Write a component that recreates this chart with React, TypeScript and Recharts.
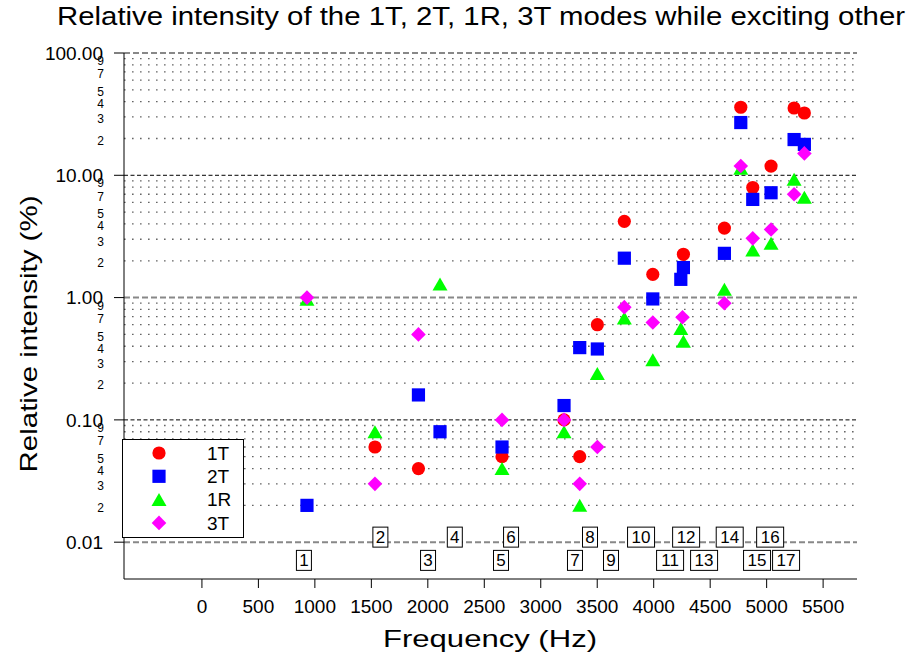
import { ScatterChart, Scatter, XAxis, YAxis, ReferenceLine, Legend } from "recharts";

const title = "Relative intensity of the 1T, 2T, 1R, 3T modes while exciting other";

// axis ticks
const xTicks = [0, 500, 1000, 1500, 2000, 2500, 3000, 3500, 4000, 4500, 5000, 5500];
const majorY = [0.01, 0.1, 1, 10, 100];
const minorSteps = [2, 3, 4, 5, 6, 7, 8, 9];
const labelledSteps = [2, 3, 4, 5, 7, 9];

// series: frequency (Hz) and relative intensity (%)
const freq1T = [1532, 1917, 2657, 3206, 3345, 3501, 3740, 3992, 4263, 4626, 4771, 4877, 5039, 5243, 5334];
const val1T = [0.06, 0.04, 0.05, 0.1, 0.05, 0.6, 4.2, 1.55, 2.26, 3.7, 36, 7.95, 11.9, 35.5, 32.3];

const freq2T = [930, 1917, 2108, 2657, 3206, 3345, 3501, 3740, 3992, 4240, 4263, 4626, 4771, 4877, 5039, 5243, 5334];
const val2T = [0.02, 0.16, 0.08, 0.06, 0.131, 0.39, 0.38, 2.1, 0.975, 1.41, 1.76, 2.3, 27, 6.35, 7.2, 19.6, 17.9];

const freq1R = [930, 1532, 2108, 2657, 3206, 3345, 3501, 3740, 3992, 4240, 4263, 4626, 4771, 4877, 5039, 5243, 5334];
const val1R = [0.97, 0.08, 1.29, 0.04, 0.08, 0.02, 0.24, 0.68, 0.31, 0.56, 0.44, 1.17, 11.4, 2.45, 2.78, 9.3, 6.6];

const freq3T = [930, 1532, 1917, 2657, 3206, 3345, 3501, 3740, 3992, 4255, 4626, 4771, 4877, 5039, 5243, 5334];
const val3T = [1.0, 0.03, 0.5, 0.1, 0.1, 0.03, 0.06, 0.835, 0.625, 0.69, 0.9, 11.9, 3.05, 3.6, 7.0, 15.1];

// numbered boxes for the excited modes
const modeNumbers = [1, 2, 3, 4, 5, 6, 7, 8, 9, 10, 11, 12, 13, 14, 15, 16, 17];
const modeFreqs = [903, 1580, 2002, 2239, 2648, 2737, 3303, 3436, 3622, 3888, 4145, 4287, 4446, 4673, 4915, 5031, 5172];
const boxRowUpper = 0.011;
const boxRowLower = 0.0071;

const toPoints = (xs: number[], ys: number[]) => xs.map((x, i) => ({ x, y: ys[i] }));

const series = [
  { name: "1T", color: "#ff0000", kind: "circle", data: toPoints(freq1T, val1T) },
  { name: "2T", color: "#0000ff", kind: "square", data: toPoints(freq2T, val2T) },
  { name: "1R", color: "#00ff00", kind: "triangle", data: toPoints(freq1R, val1R) },
  { name: "3T", color: "#ff00ff", kind: "diamond", data: toPoints(freq3T, val3T) },
];

const modeBoxes = modeNumbers.map((n, i) => ({
  x: modeFreqs[i],
  y: n % 2 === 0 ? boxRowUpper : boxRowLower,
  n,
}));

const minorY = majorY.slice(0, -1).flatMap((m) => minorSteps.map((s) => +(m * s).toPrecision(6)));
const yTicks = [...majorY, ...minorY].sort((a, b) => a - b);

const font = "'Liberation Sans', Arial, sans-serif";

const Marker = ({ kind, cx, cy, color }: { kind: string; cx: number; cy: number; color: string }) => {
  if (kind === "circle") return <circle cx={cx} cy={cy} r={6.6} fill={color} />;
  if (kind === "square") return <rect x={cx - 6.6} y={cy - 6.6} width={13.2} height={13.2} fill={color} />;
  if (kind === "triangle")
    return <polygon points={`${cx},${cy - 6.5} ${cx + 7.5},${cy + 6.5} ${cx - 7.5},${cy + 6.5}`} fill={color} />;
  return <polygon points={`${cx},${cy - 7.3} ${cx + 7.3},${cy} ${cx},${cy + 7.3} ${cx - 7.3},${cy}`} fill={color} />;
};

const YTick = (props: any) => {
  const { x, y, payload } = props;
  const v = payload.value;
  if (majorY.some((m) => Math.abs(m - v) / m < 1e-6)) {
    return (
      <g>
        <line x1={x - 10} x2={x} y1={y} y2={y} stroke="#000" />
        <text x={x - 21} y={y} dy="0.36em" textAnchor="end" fontSize={19} fontFamily={font} fill="#000">
          {v.toFixed(2)}
        </text>
      </g>
    );
  }
  const step = Math.round(v / Math.pow(10, Math.floor(Math.log10(v) + 1e-9)));
  if (!labelledSteps.includes(step)) return <g />;
  return (
    <text x={x - 20} y={y + 2} dy="0.36em" textAnchor="end" fontSize={12} fontFamily={font} fill="#000">
      {step}
    </text>
  );
};

const ModeBox = (props: any) => {
  const { cx, cy, payload } = props;
  const w = payload.n < 10 ? 15 : 27;
  return (
    <g>
      <rect x={cx - w / 2} y={cy - 10} width={w} height={20} fill="#fff" stroke="#000" />
      <text x={cx} y={cy} dy="0.36em" textAnchor="middle" fontSize={17} fontFamily={font} fill="#000">
        {payload.n}
      </text>
    </g>
  );
};

const LegendBox = () => (
  <svg width={122} height={100} style={{ display: "block" }}>
    <rect x={0.5} y={0.5} width={121} height={98} fill="#fff" stroke="#000" />
    {series.map((s, i) => (
      <g key={s.name}>
        <Marker kind={s.kind} cx={37} cy={14 + i * 23.3} color={s.color} />
        <text x={85} y={14 + i * 23.3} dy="0.36em" fontSize={19} fontFamily={font} fill="#000">
          {s.name}
        </text>
      </g>
    ))}
  </svg>
);

const gridStyle = (v: number) => {
  if (v === 10 || v === 0.1) return { stroke: "#000", strokeWidth: 1, strokeDasharray: "4 2.5" };
  if (majorY.includes(v)) return { stroke: "#888", strokeWidth: 2, strokeDasharray: "6 3" };
  return { stroke: "#666", strokeWidth: 1.3, strokeDasharray: "1.6 6.4" };
};

const App = () => {
  return (
    <div style={{ position: "absolute", left: 0, top: 0, width: 912, height: 662, background: "#fff", fontFamily: font }}>
      <ScatterChart width={912} height={662} margin={{ top: 53, right: 55, bottom: 52, left: 0 }}>
        <XAxis
          type="number"
          dataKey="x"
          domain={[-690, 5800]}
          allowDataOverflow
          ticks={xTicks}
          interval={0}
          tickSize={9}
          tickMargin={12}
          height={31}
          stroke="#000"
          tick={{ fontSize: 19, fill: "#000", fontFamily: font }}
        />
        <YAxis
          type="number"
          dataKey="y"
          scale="log"
          domain={[0.005, 100]}
          allowDataOverflow
          ticks={yTicks}
          interval={0}
          width={124}
          tickLine={false}
          tickSize={0}
          tickMargin={0}
          stroke="#000"
          tick={<YTick />}
        />
        {[...minorY, ...majorY].map((v) => (
          <ReferenceLine key={v} y={v} {...gridStyle(v)} />
        ))}
        <Legend
          layout="horizontal"
          verticalAlign="middle"
          align="center"
          wrapperStyle={{ left: 122, top: 439, width: 122, height: 100 }}
          content={() => <LegendBox />}
        />
        <Scatter
          name="modes"
          data={modeBoxes}
          legendType="none"
          isAnimationActive={false}
          shape={(p: any) => <ModeBox {...p} />}
        />
        {series.map((s) => (
          <Scatter
            key={s.name}
            name={s.name}
            data={s.data}
            fill={s.color}
            isAnimationActive={false}
            shape={(p: any) => <Marker kind={s.kind} cx={p.cx} cy={p.cy} color={s.color} />}
          />
        ))}
      </ScatterChart>
      <svg width={912} height={662} style={{ position: "absolute", left: 0, top: 0, pointerEvents: "none" }}>
        <text x={57} y={25} fontSize={26} fontFamily={font} textLength={848} lengthAdjust="spacingAndGlyphs" fill="#000">
          {title}
        </text>
        <text
          x={0}
          y={0}
          transform="translate(37 334) rotate(-90)"
          textAnchor="middle"
          fontSize={24}
          fontFamily={font}
          textLength={277}
          lengthAdjust="spacingAndGlyphs"
          fill="#000"
        >
          Relative intensity (%)
        </text>
        <text x={490} y={647} textAnchor="middle" fontSize={24} fontFamily={font} textLength={214} lengthAdjust="spacingAndGlyphs" fill="#000">
          Frequency (Hz)
        </text>
      </svg>
    </div>
  );
};

export default App;
